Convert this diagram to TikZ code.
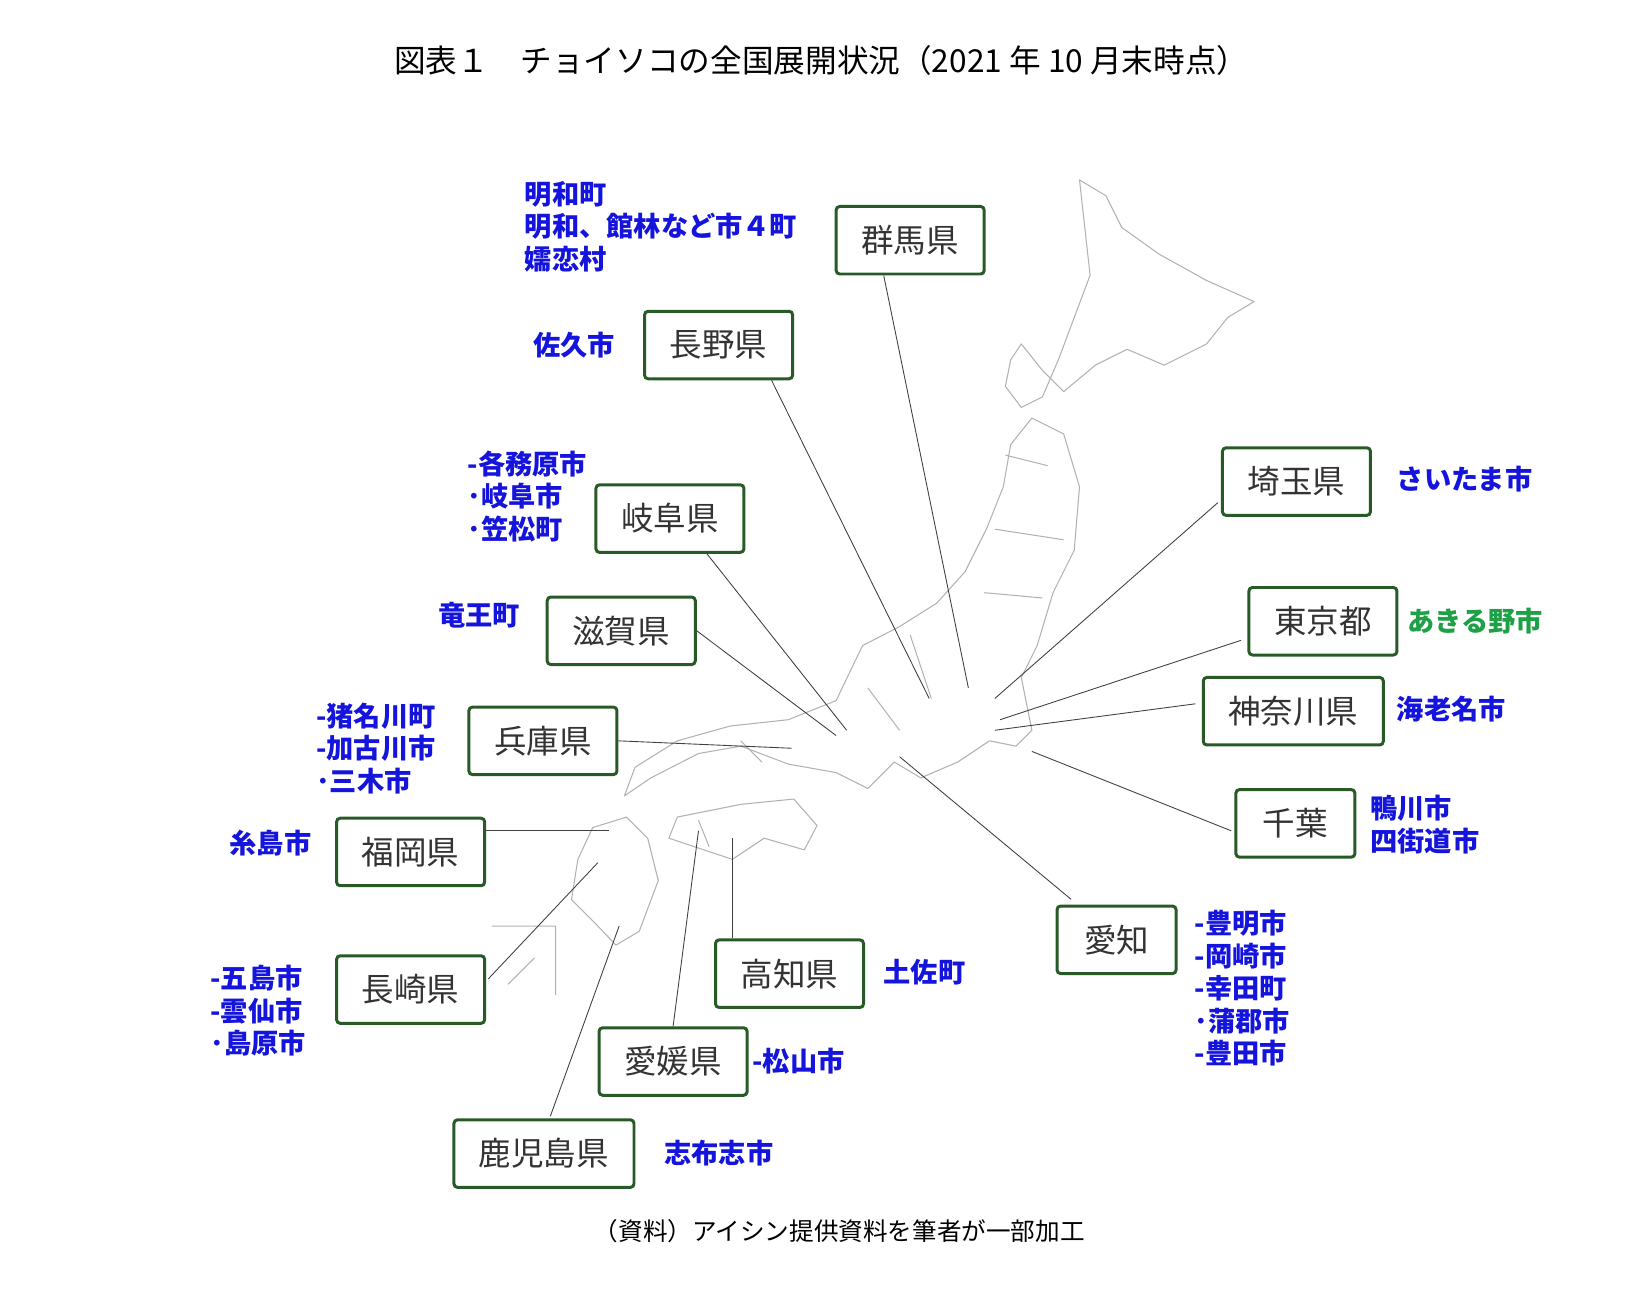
\documentclass[tikz,border=0pt]{standalone}
\usepackage{fontspec}
\setmainfont{Noto Sans CJK JP}
\usetikzlibrary{positioning}
\definecolor{boxgreen}{RGB}{40,90,40}
\definecolor{placeblue}{RGB}{20,20,220}
\definecolor{placegreen}{RGB}{30,160,70}
\begin{document}
\begin{tikzpicture}[x=0.02116cm,y=-0.02116cm,
  pref/.style={draw=boxgreen, line width=1.7pt, rounded corners=2pt, minimum width=2.96cm, minimum height=1.35cm, text=black!80, font=\fontsize{18.5}{18.5}\selectfont},
  town/.style={text=placeblue, font=\bfseries\fontsize{15.5}{18.5}\selectfont, align=left},
  leader/.style={black!75, line width=0.5pt},
  coast/.style={black!30, line width=0.6pt, line join=round},
]
\useasboundingbox (0,0) rectangle (1560,1227);

% title and source
\node (title) at (776,57) {\fontsize{18}{18}\selectfont 図表１　チョイソコの全国展開状況（2021 年 10 月末時点）};
\node (source) at (793,1163) {\fontsize{14}{14}\selectfont （資料）アイシン提供資料を筆者が一部加工};

% map outline
\draw[coast] (1020,170) -- (1045,185) -- (1060,215) -- (1095,240) -- (1140,265) -- (1185,285)
  -- (1160,300) -- (1140,325) -- (1100,345) -- (1065,330) -- (1035,345) -- (1005,370)
  -- (985,350) -- (965,325) -- (955,340) -- (950,365) -- (965,385) -- (985,375) -- (1000,340)
  -- (1015,300) -- (1030,260) -- (1025,215) -- cycle;
\draw[coast] (975,395) -- (1005,410) -- (1020,460) -- (1015,520) -- (995,560) -- (980,610)
  -- (965,640) -- (975,690) -- (960,705) -- (935,700) -- (905,720) -- (870,735) -- (845,720)
  -- (820,745) -- (790,730) -- (745,722) -- (700,705) -- (660,712) -- (615,735) -- (590,752)
  -- (600,725) -- (640,700) -- (690,686) -- (745,680) -- (790,662) -- (815,610) -- (850,592)
  -- (885,570) -- (912,540) -- (932,500) -- (948,460) -- (955,420) -- cycle;
\draw[coast] (640,772) -- (700,760) -- (750,755) -- (772,780) -- (760,803) -- (722,792)
  -- (692,812) -- (662,802) -- (632,792) -- cycle;
\draw[coast] (560,782) -- (592,772) -- (612,792) -- (622,832) -- (604,880) -- (582,893)
  -- (562,872) -- (540,850) -- (546,812) -- cycle;
\draw[coast] (950,430) -- (990,440) (940,500) -- (1005,510) (930,560) -- (985,565)
  (860,600) -- (880,660) (820,650) -- (850,690) (700,700) -- (720,720) (660,775) -- (670,800);
\draw[coast] (465,875) -- (525,875) -- (525,940) (480,930) -- (505,905);

% prefecture boxes
\node[pref] (gunma) at (860,227) {群馬県};
\node[pref] (nagano) at (679,326) {長野県};
\node[pref] (gifu) at (633,490) {岐阜県};
\node[pref] (shiga) at (587,596) {滋賀県};
\node[pref] (hyogo) at (513,700) {兵庫県};
\node[pref] (fukuoka) at (388,805) {福岡県};
\node[pref] (nagasaki) at (388,935) {長崎県};
\node[pref, minimum width=3.6cm] (kagoshima) at (514,1090) {鹿児島県};
\node[pref] (ehime) at (636,1003) {愛媛県};
\node[pref] (kochi) at (746,920) {高知県};
\node[pref, minimum width=2.38cm] (aichi) at (1055,888) {愛知};
\node[pref, minimum width=2.38cm] (chiba) at (1224,778) {千葉};
\node[pref, minimum width=3.6cm] (kanagawa) at (1222,672) {神奈川県};
\node[pref] (tokyo) at (1250,587) {東京都};
\node[pref] (saitama) at (1225,455) {埼玉県};

% leaders
\coordinate (pgunma) at (915,650);
\coordinate (pnagano) at (878,660);
\coordinate (pgifu) at (800,690);
\coordinate (pshiga) at (790,695);
\coordinate (phyogo) at (748,707);
\coordinate (pfukuoka) at (575,785);
\coordinate (pnagasaki) at (565,815);
\coordinate (pkagoshima) at (585,875);
\coordinate (pehime) at (660,785);
\coordinate (pkochi) at (692,792);
\coordinate (paichi) at (850,715);
\coordinate (pchiba) at (975,710);
\coordinate (pkanagawa) at (940,690);
\coordinate (ptokyo) at (945,680);
\coordinate (psaitama) at (940,660);
\draw[leader] (gunma.south) ++(-25,0) -- (pgunma);
\draw[leader] (nagano.south) ++(50,0) -- (pnagano);
\draw[leader] (gifu.south) ++(35,0) -- (pgifu);
\draw[leader] (shiga.east) -- (pshiga);
\draw[leader] (hyogo.east) -- (phyogo);
\draw[leader] (fukuoka.east) ++(0,-20) -- (pfukuoka);
\draw[leader] (nagasaki.east) ++(2,-10) -- (pnagasaki);
\draw[leader] (kagoshima.north) ++(6,-2) -- (pkagoshima);
\draw[leader] (ehime.north) -- (pehime);
\draw[leader] (kochi.north) ++(-54,0) -- (pkochi);
\draw[leader] (aichi.north) ++(-43,-5) -- (paichi);
\draw[leader] (chiba.west) ++(-3,7) -- (pchiba);
\draw[leader] (kanagawa.west) ++(-6,-7) -- (pkanagawa);
\draw[leader] (tokyo.west) ++(-6,18) -- (ptokyo);
\draw[leader] (saitama.west) ++(-3,20) -- (psaitama);

% town labels
\node[town, anchor=west] (tgunma) at (490,214) {明和町\\明和、館林など市４町\\嬬恋村};
\node[town, anchor=east] (tnagano) at (587,326) {佐久市};
\node[town, anchor=west] (tgifu) at (436,469) {-各務原市\\･岐阜市\\･笠松町};
\node[town, anchor=east] (tshiga) at (497,581) {竜王町};
\node[town, anchor=west] (thyogo) at (293,707) {-猪名川町\\-加古川市\\･三木市};
\node[town, anchor=east] (tfukuoka) at (300,797) {糸島市};
\node[town, anchor=west] (tnagasaki) at (193,955) {-五島市\\-雲仙市\\･島原市};
\node[town, anchor=west] (tkagoshima) at (622,1090) {志布志市};
\node[town, anchor=west] (tehime) at (705,1003) {-松山市};
\node[town, anchor=west] (tkochi) at (829,919) {土佐町};
\node[town, anchor=west] (taichi) at (1123,934) {-豊明市\\-岡崎市\\-幸田町\\･蒲郡市\\-豊田市};
\node[town, anchor=west] (tchiba) at (1289,779) {鴨川市\\四街道市};
\node[town, anchor=west] (tkanagawa) at (1314,670) {海老名市};
\node[town, anchor=west, text=placegreen] (ttokyo) at (1324,587) {あきる野市};
\node[town, anchor=west] (tsaitama) at (1314,453) {さいたま市};
\end{tikzpicture}
\end{document}
